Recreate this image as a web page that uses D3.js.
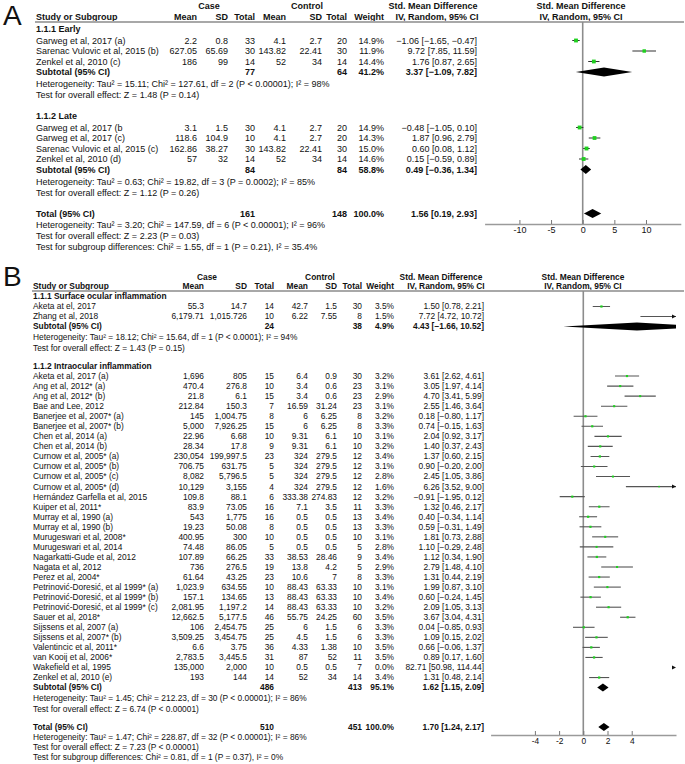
<!DOCTYPE html>
<html>
<head>
<meta charset="utf-8">
<script src="https://cdn.jsdelivr.net/npm/d3@7"></script>
<style>
  body { margin: 0; background: #fff; }
  svg text { font-family: "Liberation Sans", Arial, sans-serif; fill: #111; }
</style>
</head>
<body>
<div id="chart"></div>
<script>
// row: study, case mean, case SD, case total, control mean, control SD, control total, weight %, SMD, lower, upper
const earlyRows = [
  ["Garweg et al, 2017 (a)", "2.2", "0.8", 33, "4.1", "2.7", 20, 14.9, -1.06, -1.65, -0.47],
  ["Sarenac Vulovic et al, 2015 (b)", "627.05", "65.69", 30, "143.82", "22.41", 30, 11.9, 9.72, 7.85, 11.59],
  ["Zenkel et al, 2010 (c)", "186", "99", 14, "52", "34", 14, 14.4, 1.76, 0.87, 2.65]
];
const lateRows = [
  ["Garweg et al, 2017 (b", "3.1", "1.5", 30, "4.1", "2.7", 20, 14.9, -0.48, -1.05, 0.10],
  ["Garweg et al, 2017 (c)", "118.6", "104.9", 10, "4.1", "2.7", 20, 14.3, 1.87, 0.96, 2.79],
  ["Sarenac Vulovic et al, 2015 (c)", "162.86", "38.27", 30, "143.82", "22.41", 30, 15.0, 0.60, 0.08, 1.12],
  ["Zenkel et al, 2010 (d)", "57", "32", 14, "52", "34", 14, 14.6, 0.15, -0.59, 0.89]
];
// subtotal: case total, control total, weight, SMD, lower, upper
const subtotalsA = [[77, 64, 41.2, 3.37, -1.09, 7.82], [84, 84, 58.8, 0.49, -0.36, 1.34]];
const totalA = [161, 148, 100.0, 1.56, 0.19, 2.93];
const groupNamesA = ["1.1.1 Early", "1.1.2 Late"];
const hetA = [
  "Heterogeneity: Tau² = 15.11; Chi² = 127.61, df = 2 (P < 0.00001); I² = 98%",
  "Heterogeneity: Tau² = 0.63; Chi² = 19.82, df = 3 (P = 0.0002); I² = 85%"
];
const testA = ["Test for overall effect: Z = 1.48 (P = 0.14)", "Test for overall effect: Z = 1.12 (P = 0.26)"];
const footA = [
  "Heterogeneity: Tau² = 3.20; Chi² = 147.59, df = 6 (P < 0.00001); I² = 96%",
  "Test for overall effect: Z = 2.23 (P = 0.03)",
  "Test for subgroup differences: Chi² = 1.55, df = 1 (P = 0.21), I² = 35.4%"
];
const ticksA = [-10, -5, 0, 5, 10];

const surfaceRows = [
  ["Aketa at el, 2017", "55.3", "14.7", 14, "42.7", "1.5", 30, 3.5, 1.50, 0.78, 2.21],
  ["Zhang et al, 2018", "6,179.71", "1,015.726", 10, "6.22", "7.55", 8, 1.5, 7.72, 4.72, 10.72]
];
const intraRows = [
  ["Aketa et al, 2017 (a)", "1,696", "805", 15, "6.4", "0.9", 30, 3.2, 3.61, 2.62, 4.61],
  ["Ang et al, 2012* (a)", "470.4", "276.8", 10, "3.4", "0.6", 23, 3.1, 3.05, 1.97, 4.14],
  ["Ang et al, 2012* (b)", "21.8", "6.1", 15, "3.4", "0.6", 23, 2.9, 4.70, 3.41, 5.99],
  ["Bae and Lee, 2012", "212.84", "150.3", 7, "16.59", "31.24", 23, 3.1, 2.55, 1.46, 3.64],
  ["Banerjee et al, 2007* (a)", "145", "1,004.75", 8, "6", "6.25", 8, 3.2, 0.18, -0.80, 1.17],
  ["Banerjee et al, 2007* (b)", "5,000", "7,926.25", 15, "6", "6.25", 8, 3.3, 0.74, -0.15, 1.63],
  ["Chen et al, 2014 (a)", "22.96", "6.68", 10, "9.31", "6.1", 10, 3.1, 2.04, 0.92, 3.17],
  ["Chen et al, 2014 (b)", "28.34", "17.8", 9, "9.31", "6.1", 10, 3.2, 1.40, 0.37, 2.43],
  ["Curnow et al, 2005* (a)", "230,054", "199,997.5", 23, "324", "279.5", 12, 3.4, 1.37, 0.60, 2.15],
  ["Curnow et al, 2005* (b)", "706.75", "631.75", 5, "324", "279.5", 12, 3.1, 0.90, -0.20, 2.00],
  ["Curnow et al, 2005* (c)", "8,082", "5,796.5", 5, "324", "279.5", 12, 2.8, 2.45, 1.05, 3.86],
  ["Curnow et al, 2005* (d)", "10,129", "3,155", 4, "324", "279.5", 12, 1.6, 6.26, 3.52, 9.00],
  ["Hernández Garfella et al, 2015", "109.8", "88.1", 6, "333.38", "274.83", 12, 3.2, -0.91, -1.95, 0.12],
  ["Kuiper et al, 2011*", "83.9", "73.05", 16, "7.1", "3.5", 11, 3.3, 1.32, 0.46, 2.17],
  ["Murray et al, 1990 (a)", "543", "1,775", 16, "0.5", "0.5", 13, 3.4, 0.40, -0.34, 1.14],
  ["Murray et al, 1990 (b)", "19.23", "50.08", 8, "0.5", "0.5", 13, 3.3, 0.59, -0.31, 1.49],
  ["Murugeswari et al, 2008*", "400.95", "300", 10, "0.5", "0.5", 10, 3.1, 1.81, 0.73, 2.88],
  ["Murugeswari et al, 2014", "74.48", "86.05", 5, "0.5", "0.5", 5, 2.8, 1.10, -0.29, 2.48],
  ["Nagarkatti-Gude et al, 2012", "107.89", "66.25", 33, "38.53", "28.46", 9, 3.4, 1.12, 0.34, 1.90],
  ["Nagata et al, 2012", "736", "276.5", 19, "13.8", "4.2", 5, 2.9, 2.79, 1.48, 4.10],
  ["Perez et al, 2004*", "61.64", "43.25", 23, "10.6", "7", 8, 3.3, 1.31, 0.44, 2.19],
  ["Petrinović-Doresić, et al 1999* (a)", "1,023.9", "634.55", 10, "88.43", "63.33", 10, 3.1, 1.99, 0.87, 3.10],
  ["Petrinović-Doresić, et al 1999* (b)", "157.1", "134.65", 13, "88.43", "63.33", 10, 3.4, 0.60, -0.24, 1.45],
  ["Petrinović-Doresić, et al 1999* (c)", "2,081.95", "1,197.2", 14, "88.43", "63.33", 10, 3.2, 2.09, 1.05, 3.13],
  ["Sauer et al, 2018*", "12,662.5", "5,177.5", 46, "55.75", "24.25", 60, 3.5, 3.67, 3.04, 4.31],
  ["Sijssens et al, 2007 (a)", "106", "2,454.75", 25, "6", "1.5", 6, 3.3, 0.04, -0.85, 0.93],
  ["Sijssens et al, 2007* (b)", "3,509.25", "3,454.75", 25, "4.5", "1.5", 6, 3.3, 1.09, 0.15, 2.02],
  ["Valentincic et al, 2011*", "6.6", "3.75", 36, "4.33", "1.38", 10, 3.5, 0.66, -0.06, 1.37],
  ["van Kooij et al, 2006*", "2,783.5", "3,445.5", 31, "87", "52", 11, 3.5, 0.89, 0.17, 1.60],
  ["Wakefield et al, 1995", "135,000", "2,000", 10, "0.5", "0.5", 7, 0.0, 82.71, 50.98, 114.44],
  ["Zenkel et al, 2010 (e)", "193", "144", 14, "52", "34", 14, 3.4, 1.31, 0.48, 2.14]
];
const subtotalsB = [[24, 38, 4.9, 4.43, -1.66, 10.52], [486, 413, 95.1, 1.62, 1.15, 2.09]];
const totalB = [510, 451, 100.0, 1.70, 1.24, 2.17];
const groupNamesB = ["1.1.1 Surface ocular inflammation", "1.1.2 Intraocular inflammation"];
const hetB = [
  "Heterogeneity: Tau² = 18.12; Chi² = 15.64, df = 1 (P < 0.0001); I² = 94%",
  "Heterogeneity: Tau² = 1.45; Chi² = 212.23, df = 30 (P < 0.00001); I² = 86%"
];
const testB = ["Test for overall effect: Z = 1.43 (P = 0.15)", "Test for overall effect: Z = 6.74 (P < 0.00001)"];
const footB = [
  "Heterogeneity: Tau² = 1.47; Chi² = 228.87, df = 32 (P < 0.00001); I² = 86%",
  "Test for overall effect: Z = 7.23 (P < 0.00001)",
  "Test for subgroup differences: Chi² = 0.81, df = 1 (P = 0.37), I² = 0%"
];
const ticksB = [-4, -2, 0, 2, 4];

const f2 = d3.format(".2f");
const pct = w => d3.format(".1f")(w) + "%";
const ci = (e, l, h) => `${f2(e)} [${f2(l)}, ${f2(h)}]`;

const svg = d3.select("#chart").append("svg")
  .attr("width", 685)
  .attr("height", 764);

function drawPanel(p) {
  const g = svg.append("g").style("font-size", p.fontSize + "px");
  const put = (x, y, s, anchor, bold) => g.append("text")
    .attr("x", x).attr("y", y).attr("dy", "0.35em")
    .attr("text-anchor", anchor)
    .style("font-weight", bold ? "bold" : "normal")
    .text(s);

  g.append("text").attr("x", 3).attr("y", p.labelY)
    .style("font-size", "28px").text(p.label);

  // header
  const [h1, h2] = p.headY;
  put(p.caseX, h1, "Case", "middle", true);
  put(p.controlX, h1, "Control", "middle", true);
  put(p.smdX, h1, "Std. Mean Difference", "middle", true);
  put(p.plotX, h1, "Std. Mean Difference", "middle", true);
  put(p.nameX, h2, "Study or Subgroup", "start", true);
  ["Mean", "SD", "Total", "Mean", "SD", "Total", "Weight"]
    .forEach((s, i) => put(p.cols[i], h2, s, "end", true));
  put(p.ivX, h2, "IV, Random, 95% CI", "middle", true);
  put(p.plotX, h2, "IV, Random, 95% CI", "middle", true);
  g.append("line")
    .attr("x1", p.nameX - 1).attr("x2", 684)
    .attr("y1", p.ruleY).attr("y2", p.ruleY)
    .attr("stroke", "#a8a8a8").attr("stroke-width", 2);

  const studies = [], diamonds = [];
  let y = p.firstY;
  p.groups.forEach((grp, gi) => {
    if (gi > 0) y += p.sectionGap;
    put(p.nameX, y, grp.name, "start", true);
    y += p.firstRow;
    grp.rows.forEach((r, i) => {
      if (i > 0) y += p.rowStep;
      put(p.nameX, y, r[0], "start");
      for (let c = 1; c <= 6; c++) put(p.cols[c - 1], y, r[c], "end");
      put(p.cols[6], y, pct(r[7]), "end");
      put(p.cols[7], y, ci(r[8], r[9], r[10]), "end");
      studies.push({ y, w: r[7], est: r[8], lo: r[9], hi: r[10] });
    });
    y += p.subStep;
    const s = grp.sub;
    put(p.nameX, y, "Subtotal (95% CI)", "start", true);
    put(p.cols[2], y, s[0], "end", true);
    put(p.cols[5], y, s[1], "end", true);
    put(p.cols[6], y, pct(s[2]), "end", true);
    put(p.cols[7], y, ci(s[3], s[4], s[5]), "end", true);
    diamonds.push({ y, est: s[3], lo: s[4], hi: s[5] });
    y += p.hetGap; put(p.nameX, y, grp.het, "start");
    y += p.testGap; put(p.nameX, y, grp.test, "start");
  });
  y += p.sectionGap;
  const t = p.total;
  put(p.nameX, y, "Total (95% CI)", "start", true);
  put(p.cols[2], y, t[0], "end", true);
  put(p.cols[5], y, t[1], "end", true);
  put(p.cols[6], y, pct(t[2]), "end", true);
  put(p.cols[7], y, ci(t[3], t[4], t[5]), "end", true);
  diamonds.push({ y, est: t[3], lo: t[4], hi: t[5] });
  p.foot.forEach(line => { y += p.footStep; put(p.nameX, y, line, "start"); });

  // forest plot
  const x = p.x;
  const [d0, d1] = x.domain();
  const [r0, r1] = x.range();
  const clipId = "clip" + p.label;
  svg.append("clipPath").attr("id", clipId)
    .append("rect").attr("x", r0).attr("y", p.ruleY)
    .attr("width", r1 - r0).attr("height", p.axisY - p.ruleY);

  g.append("line")
    .attr("x1", x(0)).attr("x2", x(0))
    .attr("y1", p.ruleY).attr("y2", p.axisY)
    .attr("stroke", "#8c8c8c").attr("stroke-width", 1.6);

  const plot = g.append("g").attr("clip-path", `url(#${clipId})`);

  studies.forEach(d => {
    const a = Math.max(d.lo, d0), b = Math.min(d.hi, d1);
    if (a < b) {
      plot.append("line")
        .attr("x1", x(a)).attr("x2", x(b))
        .attr("y1", d.y).attr("y2", d.y)
        .attr("stroke", p.ciColor).attr("stroke-width", 1.1);
    }
    if (d.hi > d1) {
      g.append("path")
        .attr("d", `M${r1 - 4},${d.y - 2}L${r1},${d.y}L${r1 - 4},${d.y + 2}Z`)
        .attr("fill", "#111");
    }
    if (d.lo < d0) {
      g.append("path")
        .attr("d", `M${r0 + 4},${d.y - 2}L${r0},${d.y}L${r0 + 4},${d.y + 2}Z`)
        .attr("fill", "#111");
    }
    if (d.w > 0 && d.est >= d0 && d.est <= d1) {
      const side = p.sq * Math.sqrt(d.w);
      plot.append("rect")
        .attr("x", x(d.est) - side / 2).attr("y", d.y - side / 2)
        .attr("width", side).attr("height", side)
        .attr("fill", "#1fd01f");
    }
  });

  diamonds.forEach(d => {
    const h = p.diamondH / 2;
    plot.append("path")
      .attr("d", `M${x(d.lo)},${d.y}L${x(d.est)},${d.y - h}L${x(d.hi)},${d.y}L${x(d.est)},${d.y + h}Z`)
      .attr("fill", "#000");
  });

  const axis = g.append("g")
    .attr("transform", `translate(0,${p.axisY})`)
    .call(d3.axisBottom(x).tickValues(p.ticks).tickSizeInner(-4).tickSizeOuter(0)
      .tickPadding(3).tickFormat(d => String(d)))
    .attr("font-size", null).attr("font-family", null);
  axis.select(".domain").attr("stroke", "#9a9a9a").attr("stroke-width", 1.6);
  axis.selectAll(".tick line").attr("stroke", "#777");
}

drawPanel({
  label: "A", labelY: 25, fontSize: 9,
  nameX: 36,
  cols: [197, 228, 255, 286, 322, 347, 384, 477],
  caseX: 209, controlX: 307, smdX: 433, ivX: 437, plotX: 581,
  headY: [6, 17], ruleY: 22,
  firstY: 29, firstRow: 11.5, rowStep: 10.5, subStep: 10.5,
  hetGap: 12, testGap: 11, sectionGap: 21, footStep: 11,
  groups: groupNamesA.map((name, i) => ({
    name, rows: [earlyRows, lateRows][i], sub: subtotalsA[i], het: hetA[i], test: testA[i]
  })),
  total: totalA, foot: footA,
  x: d3.scaleLinear().domain([-15.5, 15.5]).range([484.6, 680.8]),
  ticks: ticksA, axisY: 224,
  sq: 1.0, diamondH: 9, ciColor: "#333"
});

drawPanel({
  label: "B", labelY: 286, fontSize: 8.4,
  nameX: 33,
  cols: [204, 247, 274, 308, 337, 362, 394, 484],
  caseX: 207, controlX: 320, smdX: 441, ivX: 446, plotX: 583,
  headY: [277, 286], ruleY: 291,
  firstY: 296.5, firstRow: 10, rowStep: 10.05, subStep: 10,
  hetGap: 11, testGap: 10.5, sectionGap: 18, footStep: 10,
  groups: groupNamesB.map((name, i) => ({
    name, rows: [surfaceRows, intraRows][i], sub: subtotalsB[i], het: hetB[i], test: testB[i]
  })),
  total: totalB, foot: footB,
  x: d3.scaleLinear().domain([-7.66, 7.66]).range([490.6, 676]),
  ticks: ticksB, axisY: 735,
  sq: 1.2, diamondH: 8, ciColor: "#555"
});
</script>
</body>
</html>
